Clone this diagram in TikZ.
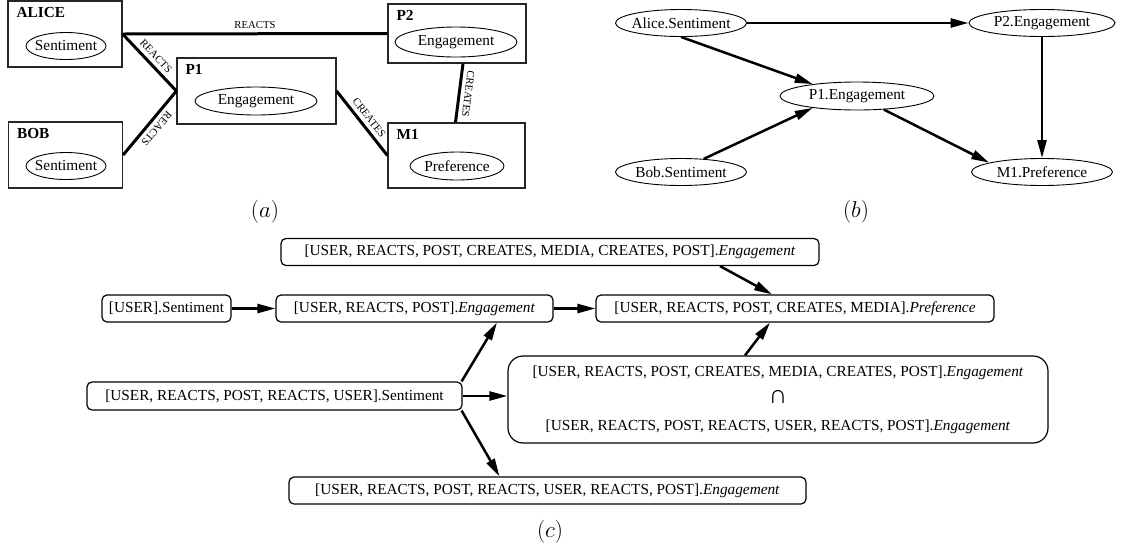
\RequirePackage{fix-cm}
\documentclass[tikz,border=0pt]{standalone}
\usepackage{fontspec}
\setmainfont{Liberation Serif}
\usetikzlibrary{shapes.geometric,arrows.meta}

\tikzset{
  entity/.style={draw=black!85, line width=1.2pt, inner sep=0pt},
  tag/.style={font=\fontsize{15.3}{18}\selectfont\bfseries, anchor=north west, inner xsep=9pt, inner ysep=7pt},
  attr/.style={ellipse, draw, line width=0.9pt, inner xsep=-40pt, inner ysep=0pt, minimum height=27pt, font=\fontsize{15.3}{18}\selectfont},
  rel/.style={line width=3pt},
  rlabel/.style={font=\fontsize{10.7}{12}\selectfont, sloped, allow upside down, anchor=south, inner sep=2.5pt, outer sep=3pt},
  dep/.style={line width=2.5pt, -{Triangle[length=18pt,width=9pt]}},
  pbox/.style={draw, rounded corners=5pt, line width=1.2pt, minimum height=27pt, font=\fontsize{15.3}{18}\selectfont},
  caption/.style={font=\fontsize{23}{27}\selectfont}
}

\begin{document}
\begin{tikzpicture}[x=1pt,y=-1pt]
  \useasboundingbox (0,0) rectangle (1127,550);

  % (a)
  \node[entity, minimum width=114pt, minimum height=66pt] (alice) at (65,34) {};
  \node[entity, minimum width=114pt, minimum height=66pt] (bob) at (65.5,155) {};
  \node[entity, minimum width=159pt, minimum height=66pt] (p1) at (256.5,91) {};
  \node[entity, minimum width=138pt, minimum height=59pt] (p2) at (457,33.5) {};
  \node[entity, minimum width=137pt, minimum height=65pt] (m1) at (456.5,155.5) {};
  \node[tag] (aliceT) at (alice.north west) {ALICE};
  \node[tag] (bobT) at (bob.north west) {BOB};
  \node[tag] (p1T) at (p1.north west) {P1};
  \node[tag] (p2T) at (p2.north west) {P2};
  \node[tag] (m1T) at (m1.north west) {M1};
  \node[attr, minimum width=80pt] (aliceSent) at (66,46) {Sentiment};
  \node[attr, minimum width=80pt] (bobSent) at (66,166) {Sentiment};
  \node[attr, minimum width=122pt, minimum height=28pt] (p1Eng) at (256,101) {Engagement};
  \node[attr, minimum width=122pt, minimum height=30pt] (p2Eng) at (456,42) {Engagement};
  \node[attr, minimum width=94pt, minimum height=28pt] (m1Pref) at (457,166) {Preference};
  \draw[rel] (alice.east) -- node[rlabel] (r1) {REACTS} (p2.west);
  \draw[rel] (alice.east) -- node[rlabel] (r2) {REACTS} (p1.west);
  \draw[rel] (p1.west) -- node[rlabel] (r3) {REACTS} (bob.east);
  \draw[rel] (p1.east) -- node[rlabel] (r4) {CREATES} (m1.west);
  \draw[rel] ([xshift=6pt]p2.south) -- node[rlabel] (r5) {CREATES} ([xshift=-1pt]m1.north);
  \node[caption] (capA) at (265,212) {$(a)$};

  % (b)
  \node[attr, minimum width=131pt] (aliceV) at (681,23) {Alice.Sentiment};
  \node[attr, minimum width=146pt] (p2V) at (1042,23) {P2.Engagement};
  \node[attr, minimum width=154pt, minimum height=28pt] (p1V) at (857,96) {P1.Engagement};
  \node[attr, minimum width=131pt] (bobV) at (681,172) {Bob.Sentiment};
  \node[attr, minimum width=141pt] (m1V) at (1042,172) {M1.Preference};
  \draw[dep] (aliceV) -- (p2V);
  \draw[dep] (aliceV.south) -- (p1V.165);
  \draw[dep] (bobV.30) -- (p1V.195);
  \draw[dep] (p1V) -- (m1V.170);
  \draw[dep] (p2V) -- (m1V);
  \node[caption] (capB) at (856,212) {$(b)$};

  % (c)
  \node[pbox, minimum width=538pt] (tEng) at (550,252) {[USER, REACTS, POST, CREATES, MEDIA, CREATES, POST].\textit{Engagement}};
  \node[pbox, minimum width=129pt] (uSent) at (166.5,308.5) {[USER].Sentiment};
  \node[pbox, minimum width=277pt] (urpEng) at (414.5,308.5) {[USER, REACTS, POST].\textit{Engagement}};
  \node[pbox, minimum width=398pt] (urpcmPref) at (795,308.5) {[USER, REACTS, POST, CREATES, MEDIA].\textit{Preference}};
  \node[pbox, minimum width=375pt, minimum height=28pt] (urpruSent) at (274.5,396) {[USER, REACTS, POST, REACTS, USER].Sentiment};
  \node[pbox, rounded corners=15pt, minimum width=540pt, minimum height=87pt, align=center, font=\fontsize{15.3}{27}\selectfont] (meet) at (778,399.5)
    {[USER, REACTS, POST, CREATES, MEDIA, CREATES, POST].\textit{Engagement}\\\scalebox{1.7}{\symbol{"2229}}\\{}[USER, REACTS, POST, REACTS, USER, REACTS, POST].\textit{Engagement}};
  \node[pbox, minimum width=517pt] (urpruEng) at (547.5,490.5) {[USER, REACTS, POST, REACTS, USER, REACTS, POST].\textit{Engagement}};
  \draw[dep] (uSent) -- (urpEng);
  \draw[dep] (urpEng) -- (urpcmPref);
  \draw[dep] ([xshift=170pt]tEng.south) -- ([xshift=-23pt]urpcmPref.north);
  \draw[dep] ([xshift=-33pt]meet.north) -- ([xshift=-25pt]urpcmPref.south);
  \draw[dep] ([xshift=-1pt]urpruSent.north east) -- ([xshift=82.5pt]urpEng.south);
  \draw[dep] (urpruSent.east) -- (urpruSent.east -| meet.west);
  \draw[dep] ([xshift=-1pt]urpruSent.south east) -- ([xshift=-48pt]urpruEng.north);
  \node[caption] (capC) at (550,532) {$(c)$};
\end{tikzpicture}
\end{document}
